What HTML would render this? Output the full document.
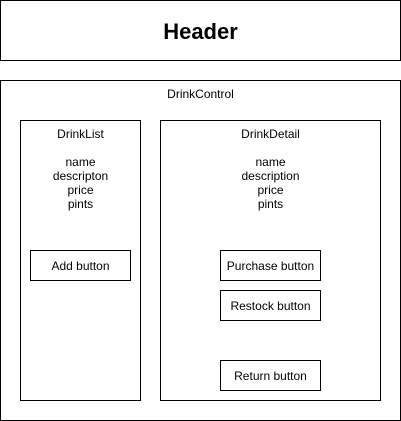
<!DOCTYPE html>
<html><head><style>body{margin:0;background:#fff}svg{display:block}text{font-family:"Liberation Sans",Arial,sans-serif;font-size:12px;fill:#000}</style></head>
<body>
<svg width="401" height="421" xmlns="http://www.w3.org/2000/svg">
<g fill="#fff" stroke="#000" stroke-width="1">
<rect x="0.5" y="0.5" width="400" height="60"/>
<rect x="0.5" y="80.5" width="400" height="340"/>
<rect x="20.5" y="120.5" width="120" height="280"/>
<rect x="160.5" y="120.5" width="220" height="280"/>
<rect x="30.5" y="250.5" width="100" height="30"/>
<rect x="220.5" y="250.5" width="100" height="30"/>
<rect x="220.5" y="290.5" width="100" height="30"/>
<rect x="220.5" y="360.5" width="100" height="30"/>
</g>
<g text-anchor="middle">
<text x="200.5" y="39" style="font-size:22px;font-weight:bold">Header</text>
<text x="200.5" y="98">DrinkControl</text>
<text x="80.5" y="138">DrinkList</text>
<text x="80.5" y="166">name</text>
<text x="80.5" y="180">descripton</text>
<text x="80.5" y="194">price</text>
<text x="80.5" y="208">pints</text>
<text x="270.5" y="138">DrinkDetail</text>
<text x="270.5" y="166">name</text>
<text x="270.5" y="180">description</text>
<text x="270.5" y="194">price</text>
<text x="270.5" y="208">pints</text>
<text x="80.5" y="270">Add button</text>
<text x="270.5" y="270">Purchase button</text>
<text x="270.5" y="310">Restock button</text>
<text x="270.5" y="380">Return button</text>
</g>
</svg>
</body></html>
